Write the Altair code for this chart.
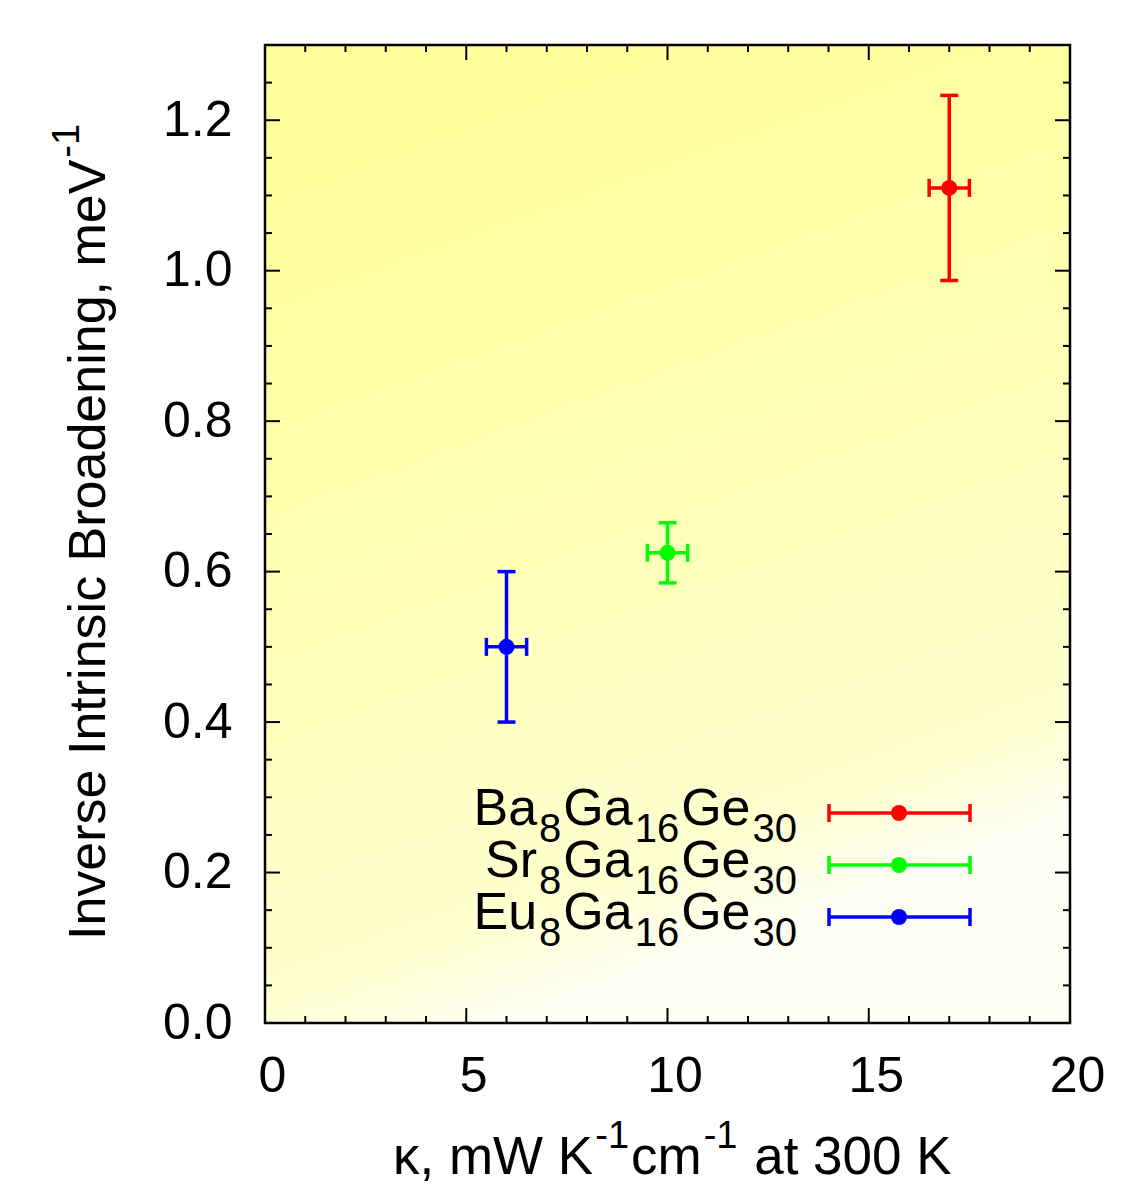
import re
import altair as alt
import pandas as pd

# ---- data ----
names = ["Ba8Ga16Ge30", "Sr8Ga16Ge30", "Eu8Ga16Ge30"]
kappa = [17.0, 10.0, 6.0]
kappa_err = [0.5, 0.5, 0.5]
inv_broad = [1.11, 0.625, 0.50]
inv_err = [0.123, 0.04, 0.10]
colors = ["#ff0000", "#00ff00", "#0000ff"]

x_major = [0, 5, 10, 15, 20]
x_minor = [1, 2, 3, 4, 6, 7, 8, 9, 11, 12, 13, 14, 16, 17, 18, 19]
y_major = [0.0, 0.2, 0.4, 0.6, 0.8, 1.0, 1.2]
y_minor = [0.05, 0.1, 0.15, 0.25, 0.3, 0.35, 0.45, 0.5, 0.55, 0.65, 0.7, 0.75,
           0.85, 0.9, 0.95, 1.05, 1.1, 1.15, 1.25]

# titles as (text, is_superscript) pieces
x_title = [("κ, mW K", 0), ("-1", 1), ("cm", 0), ("-1", 1), (" at 300 K", 0)]
y_title = [("Inverse Intrinsic Broadening, meV", 0), ("-1", 1)]

W, H = 805, 978
FONT = "Liberation Sans"

# Arial / Liberation Sans advance widths (per 1000 em)
AW = {' ': 278, ',': 278, '-': 333, '.': 278, 'a': 556, 'c': 500, 'd': 556, 'e': 556,
      'g': 556, 'i': 222, 'm': 833, 'n': 556, 'o': 556, 'r': 333, 's': 500, 't': 278,
      'u': 556, 'v': 500, 'B': 667, 'E': 667, 'G': 778, 'I': 278, 'K': 667, 'S': 667,
      'V': 667, 'W': 944, 'κ': 500}
for d in "0123456789":
    AW[d] = 556


def tw(s, size):
    return sum(AW.get(ch, 556) for ch in s) * size / 1000.0


df = pd.DataFrame({
    "name": names, "k": kappa, "ke": kappa_err,
    "y": inv_broad, "ye": inv_err, "color": colors,
})
df["xlo"] = df["k"] - df["ke"]
df["xhi"] = df["k"] + df["ke"]
df["ylo"] = df["y"] - df["ye"]
df["yhi"] = df["y"] + df["ye"]

xs = alt.Scale(domain=[0, 20], nice=False, zero=False)
ys = alt.Scale(domain=[0, 1.3], nice=False, zero=False)

x_axis = alt.Axis(values=x_major, title=None, grid=False, domain=False, ticks=False,
                  labelFontSize=50, labelFont=FONT, labelPadding=28, labelColor="black",
                  labelOffset=7, labelFlush=False)
y_axis = alt.Axis(values=y_major, format=".1f", title=None, grid=False, domain=False,
                  ticks=False, labelFontSize=50, labelFont=FONT, labelPadding=33,
                  labelColor="black", labelFlush=False)


def X(f):
    return alt.X(f, type="quantitative", scale=xs, axis=x_axis)


def Y(f):
    return alt.Y(f, type="quantitative", scale=ys, axis=y_axis)


base = alt.Chart(df)
one_row = pd.DataFrame({"a": [0]})

grad = alt.LinearGradient(
    gradient="linear",
    stops=[
        alt.GradientStop(offset=0.0, color="#ffff99"),
        alt.GradientStop(offset=0.3, color="#ffffa4"),
        alt.GradientStop(offset=0.9, color="#ffffd0"),
        alt.GradientStop(offset=1.0, color="#fffff5"),
    ],
    x1=0, y1=0, x2=0.3, y2=1,
)
bg = alt.Chart(one_row).mark_rect(color=grad).encode(
    x=alt.value(0), x2=alt.value(W), y=alt.value(0), y2=alt.value(H)
)

layers = [bg]

# inward ticks on all four sides
xmaj = alt.Chart(pd.DataFrame({"v": x_major[1:-1]}))
xmin = alt.Chart(pd.DataFrame({"v": x_minor}))
ymaj = alt.Chart(pd.DataFrame({"v": y_major[1:]}))
ymin = alt.Chart(pd.DataFrame({"v": y_minor}))
tk = dict(color="black", strokeWidth=2)
for src, L in [(xmaj, 15), (xmin, 7)]:
    layers.append(src.mark_rule(**tk).encode(x=X("v"), y=alt.value(H), y2=alt.value(H - L)))
    layers.append(src.mark_rule(**tk).encode(x=X("v"), y=alt.value(0), y2=alt.value(L)))
for src, L in [(ymaj, 15), (ymin, 7)]:
    layers.append(src.mark_rule(**tk).encode(y=Y("v"), x=alt.value(0), x2=alt.value(L)))
    layers.append(src.mark_rule(**tk).encode(y=Y("v"), x=alt.value(W), x2=alt.value(W - L)))

col = alt.Color("color:N", scale=None)
EW = 3.5
CAP = 18
layers += [
    base.mark_rule(strokeWidth=EW).encode(x=X("k"), y=Y("ylo"), y2="yhi", color=col),
    base.mark_rule(strokeWidth=EW).encode(x=X("xlo"), x2="xhi", y=Y("y"), color=col),
    base.mark_tick(orient="horizontal", size=CAP, thickness=EW, opacity=1).encode(x=X("k"), y=Y("ylo"), color=col),
    base.mark_tick(orient="horizontal", size=CAP, thickness=EW, opacity=1).encode(x=X("k"), y=Y("yhi"), color=col),
    base.mark_tick(orient="vertical", size=CAP, thickness=EW, opacity=1).encode(x=X("xlo"), y=Y("y"), color=col),
    base.mark_tick(orient="vertical", size=CAP, thickness=EW, opacity=1).encode(x=X("xhi"), y=Y("y"), color=col),
    base.mark_circle(size=256, opacity=1).encode(x=X("k"), y=Y("y"), color=col),
]


def seg_text(txt, x, y, size, angle=0):
    kw = dict(align="left", baseline="alphabetic", fontSize=size, font=FONT, color="black")
    if angle:
        kw["angle"] = angle
    return alt.Chart(pd.DataFrame({"t": [txt]})).mark_text(**kw).encode(
        x=alt.value(x), y=alt.value(y), text="t:N")


GAP = 2  # small gap between normal text and sub/superscript pieces

# manual legend (inside, lower right) with real subscripts
LMAIN, LSUB, LDROP = 52, 40, 17
for i, (nm, c) in enumerate(zip(names, colors)):
    yp = 768 + 52 * i
    one = alt.Chart(one_row)
    layers.append(one.mark_rule(strokeWidth=EW, color=c).encode(
        x=alt.value(564), x2=alt.value(705), y=alt.value(yp)))
    layers.append(one.mark_rule(strokeWidth=EW, color=c).encode(
        x=alt.value(564), y=alt.value(yp - 9), y2=alt.value(yp + 9)))
    layers.append(one.mark_rule(strokeWidth=EW, color=c).encode(
        x=alt.value(705), y=alt.value(yp - 9), y2=alt.value(yp + 9)))
    layers.append(one.mark_circle(size=256, opacity=1, color=c).encode(
        x=alt.value(634), y=alt.value(yp)))
    parts = re.findall(r"[A-Za-z]+|\d+", nm)
    sizes = [LSUB if p.isdigit() else LMAIN for p in parts]
    total = sum(tw(p, s) for p, s in zip(parts, sizes)) + GAP * (len(parts) - 1)
    cx = 532 - total
    for p, s in zip(parts, sizes):
        dy = LDROP if p.isdigit() else 0
        layers.append(seg_text(p, cx, yp + 12 + dy, s))
        cx += tw(p, s) + GAP

# x-axis title with superscripts
XM, XS, XR = 53, 38, 26
cx = 128
for t, sup in x_title:
    s = XS if sup else XM
    lead = len(t) - len(t.lstrip(" "))
    cx += tw(" " * lead, s)
    t2 = t.strip(" ")
    layers.append(seg_text(t2, cx, 1129 - (XR if sup else 0), s))
    cx += tw(t2, s) + GAP

# y-axis title (rotated) with superscript
YM, YS, YR = 52, 38, 26
cy = 895
for t, sup in y_title:
    s = YS if sup else YM
    layers.append(seg_text(t, -160 - (YR if sup else 0), cy, s, angle=270))
    cy -= tw(t, s) + GAP

border = alt.Chart(one_row).mark_rect(
    filled=False, stroke="black", strokeWidth=2.5
).encode(x=alt.value(0), x2=alt.value(W), y=alt.value(0), y2=alt.value(H))
layers.append(border)

chart = alt.layer(*layers).properties(
    width=W, height=H,
    autosize=alt.AutoSizeParams(type="none"),
    padding={"left": 265, "top": 45, "right": 64, "bottom": 165},
    background="white",
).configure_view(stroke=None)

chart.save("out.html", embed_options={"renderer": "svg", "actions": False})
